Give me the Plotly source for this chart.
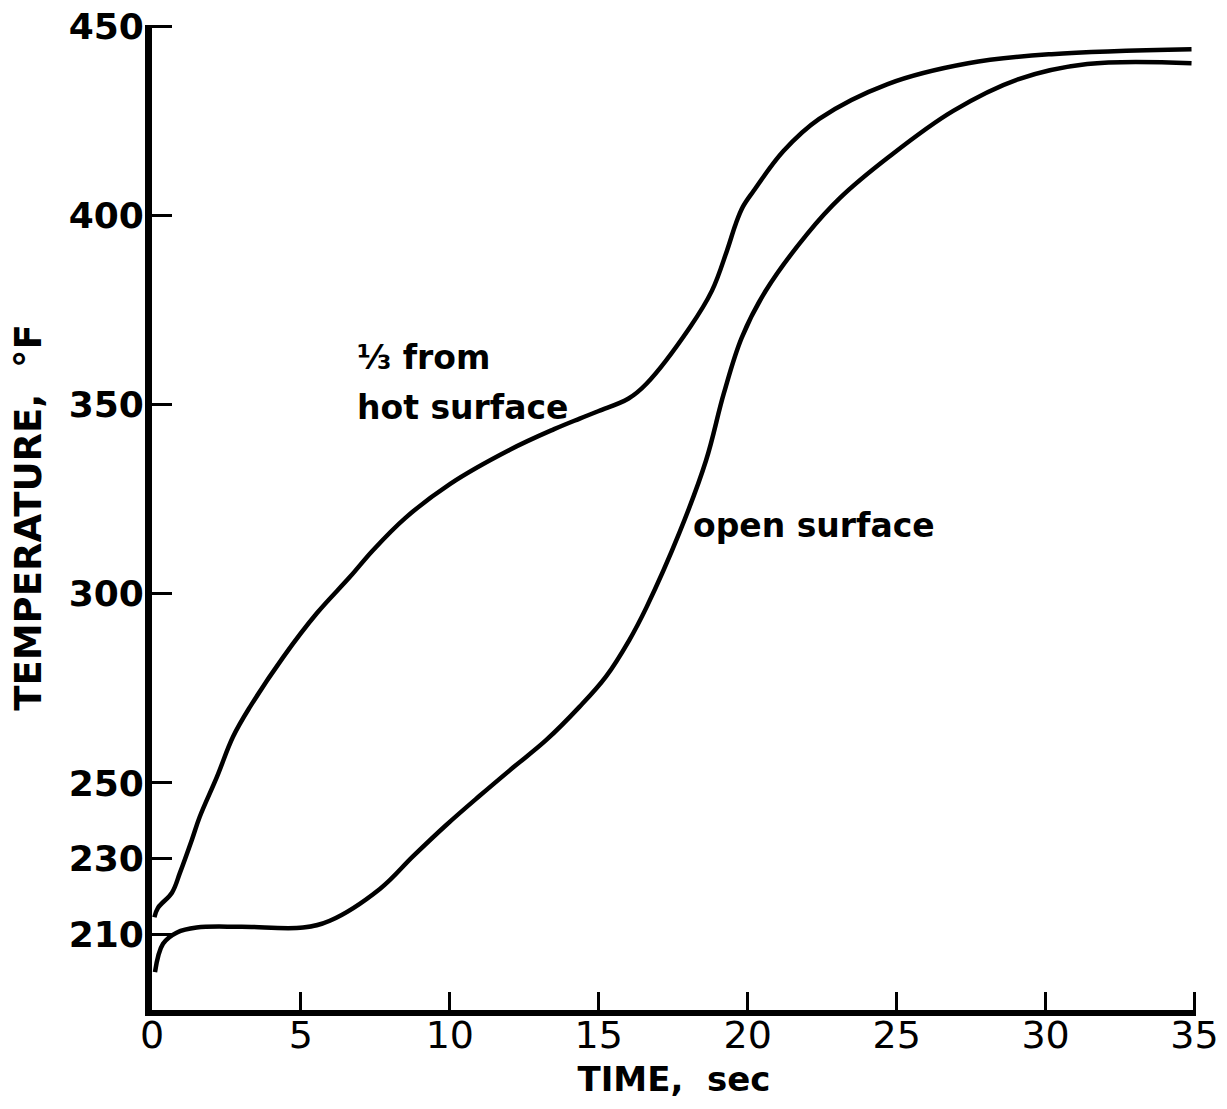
import plotly.graph_objects as go

# Curve: 1/3 from hot surface
hot_time = [0.08, 0.2, 0.67, 0.94, 1.34, 1.6, 2.18, 2.72, 3.29, 4.4, 5.54, 6.64, 7.42, 8.5, 10,
            12, 13.5, 14.36, 15.0, 16.0, 16.6, 18.05, 18.8, 19.3, 19.6, 19.84, 20.2, 21.2, 22.4,
            24.7, 27.4, 30.2, 34.9]
hot_temp = [214.5, 217.0, 221.0, 226.3, 235.0, 241.0, 251.6, 262.2, 270.1, 283.2, 294.9, 304.4,
            311.5, 320, 329, 338, 343.5, 346.3, 348.3, 351.6, 355.5, 370.3, 380.1, 390.6, 397.8,
            402.3, 406.5, 417.0, 425.5, 434.7, 440.2, 442.6, 443.9]

# Curve: open surface
open_time = [0.1, 0.37, 0.84, 1.5, 3, 5.07, 5.97, 7.65, 8.76, 9.88, 11.0, 12.11,
             13.23, 14.35, 15.24, 16.02, 16.6, 17.7, 18.6, 19.2, 19.8, 20.6, 22, 23.1, 24.7,
             26.9, 29.1, 31.4, 34.9]
open_temp = [200, 207.5, 210.5, 211.8, 212, 211.8, 213.6, 222.0, 230.6, 238.9,
             246.6, 254.0, 261.3, 270.1, 278.1, 287.7, 296.4, 316.0, 335.2, 353.0, 367.7,
             380.0, 395.1, 404.6, 415.2, 427.6, 436.0, 440.0, 440.2]

x_ticks = [0, 5, 10, 15, 20, 25, 30, 35]
y_ticks = [210, 230, 250, 300, 350, 400, 450]

FONT = "DejaVu Sans"

fig = go.Figure()
for xs, ys, name in [(hot_time, hot_temp, "1/3 from hot surface"),
                     (open_time, open_temp, "open surface")]:
    fig.add_trace(go.Scatter(x=xs, y=ys, mode="lines", name=name,
                             line=dict(color="black", width=4.5, shape="spline", smoothing=1.05),
                             showlegend=False, hoverinfo="skip"))

fig.add_annotation(x=6.8, y=362.4, text="<b>⅓ from</b>", showarrow=False,
                   xanchor="left", yanchor="middle",
                   font=dict(family=FONT, size=33, color="black"))
fig.add_annotation(x=6.8, y=349.2, text="<b>hot surface</b>", showarrow=False,
                   xanchor="left", yanchor="middle",
                   font=dict(family=FONT, size=33, color="black"))
fig.add_annotation(x=18.1, y=318.1, text="<b>open surface</b>", showarrow=False,
                   xanchor="left", yanchor="middle",
                   font=dict(family=FONT, size=33, color="black"))

fig.update_layout(
    width=1227, height=1109,
    margin=dict(l=152, r=31, t=25, b=99),
    paper_bgcolor="white", plot_bgcolor="white",
    xaxis=dict(range=[0, 35.05], tickvals=x_ticks, ticktext=[str(v) for v in x_ticks],
               automargin=False, ticklabeloverflow="allow", ticklabelstandoff=-14,
               showgrid=False, zeroline=False, showline=True, linecolor="black", linewidth=6,
               ticks="inside", ticklen=18, tickwidth=3, tickcolor="black",
               tickfont=dict(family=FONT, size=38, color="black"),
               title=dict(text="<b>TIME,  sec</b>", standoff=14,
                          font=dict(family=FONT, size=34, color="black"))),
    yaxis=dict(range=[190, 450.3], tickvals=y_ticks, ticktext=[f"<b>{v}</b>" for v in y_ticks],
               automargin=False, ticklabeloverflow="allow", ticklabelstandoff=-6,
               showgrid=False, zeroline=False, showline=True, linecolor="black", linewidth=7,
               ticks="inside", ticklen=20, tickwidth=3, tickcolor="black",
               tickfont=dict(family=FONT, size=36, color="black"),
               title=dict(text="<b>TEMPERATURE,  °F</b>", standoff=18,
                          font=dict(family=FONT, size=37, color="black"))),
)

fig.write_html("out.html", config={"displayModeBar": False},
               post_script="document.body.style.margin='0';")
